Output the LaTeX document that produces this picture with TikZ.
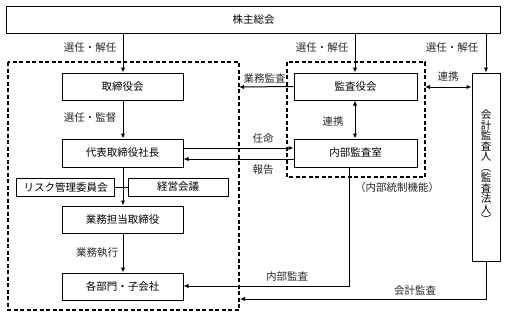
\documentclass[tikz,border=0pt]{standalone}
\usepackage{fontspec}
\setmainfont{Noto Sans CJK JP}
\usetikzlibrary{arrows.meta}
\begin{document}
\begin{tikzpicture}[x=1bp,y=-1bp,
  font=\fontsize{10.5bp}{12bp}\selectfont,
  box/.style={draw,line width=1bp,inner sep=0pt,align=center},
  arr/.style={line width=1bp,-{Latex[length=5bp,width=4.5bp]}},
  dbl/.style={line width=1bp,{Latex[length=5bp,width=4.5bp]}-{Latex[length=5bp,width=4.5bp]}},
  ln/.style={line width=1bp},
  dashbox/.style={draw,line width=1.2bp,dash pattern=on 4bp off 2.5bp},
  lbl/.style={inner sep=0pt,text=black!85}]
\useasboundingbox (0,0) rectangle (505,317);
% dashed groups
\draw[dashbox] (8,62) rectangle (239,310);
\draw[dashbox] (287,62) rectangle (425,177);
% boxes
\node[box,minimum width=494bp,minimum height=27bp] (top) at (253.5,19.5) {株主総会};
\node[box,minimum width=121bp,minimum height=27bp] (tori) at (122.5,86.5) {取締役会};
\node[box,minimum width=121bp,minimum height=28bp] (daihyo) at (122.5,153) {代表取締役社長};
\node[box,minimum width=97bp,minimum height=18bp] (risk) at (65.5,187) {リスク管理委員会};
\node[box,minimum width=100bp,minimum height=18bp] (keiei) at (178,187) {経営会議};
\node[box,minimum width=121bp,minimum height=27bp] (gyomu) at (122.5,219.5) {業務担当取締役};
\node[box,minimum width=121bp,minimum height=27bp] (kakubu) at (122.5,286.5) {各部門・子会社};
\node[box,minimum width=123bp,minimum height=27bp] (kansa) at (355.5,86.5) {監査役会};
\node[box,minimum width=123bp,minimum height=28bp] (naibu) at (355.5,153) {内部監査室};
\node[box,minimum width=28bp,minimum height=188bp] (kaikei) at (486,167) {};
\node[inner sep=0pt,align=center,font=\fontsize{10.5bp}{10.5bp}\selectfont] (kaikeitxt) at (kaikei.center)
  {会\\計\\監\\査\\人\\︵\\監\\査\\法\\人\\︶};
% coordinates
\coordinate (t1) at (123,33);
\coordinate (t2) at (355,33);
\coordinate (t3) at (486,33);
\coordinate (ddl) at (239,87);
\coordinate (ddr) at (425,87);
\coordinate (n1) at (349,286);
\coordinate (k1) at (486,299);
\coordinate (ddb) at (240,299);
% arrows from top
\draw[arr] (t1) -- (tori.north -| t1);
\draw[arr] (t2) -- (kansa.north -| t2);
\draw[arr] (t3) -- (kaikei.north -| t3);
\node[lbl] (l1) at (90,48) {選任・解任};
\node[lbl] (l2) at (322,48) {選任・解任};
\node[lbl] (l3) at (452,48) {選任・解任};
% left chain
\draw[arr] (tori.south -| t1) -- (daihyo.north -| t1);
\node[lbl] (l4) at (90,118) {選任・監督};
\draw[arr] (daihyo.south -| t1) -- (gyomu.north -| t1);
\draw[ln] (risk.east) -- (keiei.west);
\draw[arr] (gyomu.south -| t1) -- (kakubu.north -| t1);
\node[lbl] (l5) at (97,253) {業務執行};
% audit board
\draw[arr] (kansa.west) -- (ddl);
\node[lbl] (l6) at (264.5,78) {業務監査};
\draw[dbl] (ddr) -- (kaikei.west |- ddr);
\node[lbl] (l7) at (448,77) {連携};
\draw[dbl] (kansa.south -| t2) -- (naibu.north -| t2);
\node[lbl] (l8) at (333,122) {連携};
% daihyo <-> naibu
\draw[arr] (daihyo.east |- 0,148) -- (naibu.west |- 0,148);
\draw[arr] (naibu.west |- 0,159) -- (daihyo.east |- 0,159);
\node[lbl] (l9) at (263,139) {任命};
\node[lbl] (l10) at (263,170) {報告};
\node[lbl] (l11) at (397,188) {（内部統制機能）};
% internal audit
\draw[arr] (naibu.south -| n1) -- (n1) -- (kakubu.east |- n1);
\node[lbl] (l12) at (287,277) {内部監査};
% accounting audit
\draw[arr] (kaikei.south -| k1) -- (k1) -- (ddb);
\node[lbl] (l13) at (415,291) {会計監査};
\end{tikzpicture}
\end{document}
